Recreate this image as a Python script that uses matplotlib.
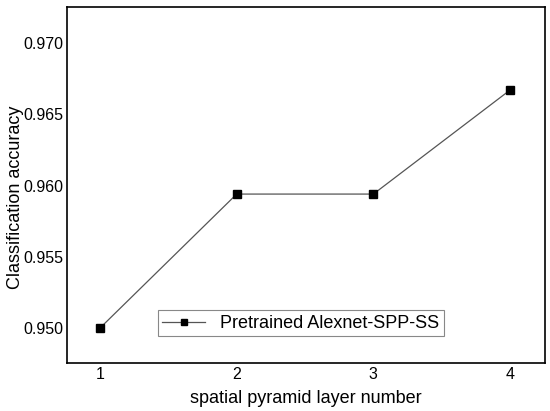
import matplotlib.pyplot as plt

# data
layers = [1, 2, 3, 4]
accuracy = [0.9500, 0.9594, 0.9594, 0.9667]
y_ticks = [0.950, 0.955, 0.960, 0.965, 0.970]

plt.rcParams["font.family"] = "Liberation Sans"

fig = plt.figure(figsize=(5.5, 4.11), dpi=100)
ax = fig.add_axes([0.121, 0.117, 0.870, 0.866])

ax.plot(layers, accuracy, color="#555555", lw=0.9, marker="s", ms=5.5,
        mfc="black", mec="black", label="Pretrained Alexnet-SPP-SS")

ax.set_xlim(0.755, 4.256)
ax.set_ylim(0.94755, 0.97253)
ax.set_xticks(layers)
ax.set_yticks(y_ticks)
ax.set_yticklabels([f"{v:.3f}" for v in y_ticks])
ax.tick_params(length=0, labelsize=11.5)
ax.tick_params(axis="y", pad=2)
ax.tick_params(axis="x", pad=3)
for s in ax.spines.values():
    s.set_linewidth(1.2)

ax.set_xlabel("spatial pyramid layer number", fontsize=13, labelpad=6)
ax.set_ylabel("Classification accuracy", fontsize=13)
ax.yaxis.set_label_coords(-0.088, 0.465)

leg = ax.legend(loc="center", bbox_to_anchor=(0.489, 0.111), fontsize=13,
                fancybox=False, framealpha=1, edgecolor="#888888",
                handlelength=2.4, borderpad=0.25, markerscale=0.75)
leg.get_frame().set_linewidth(0.8)

fig.savefig("out.png", dpi=100)
